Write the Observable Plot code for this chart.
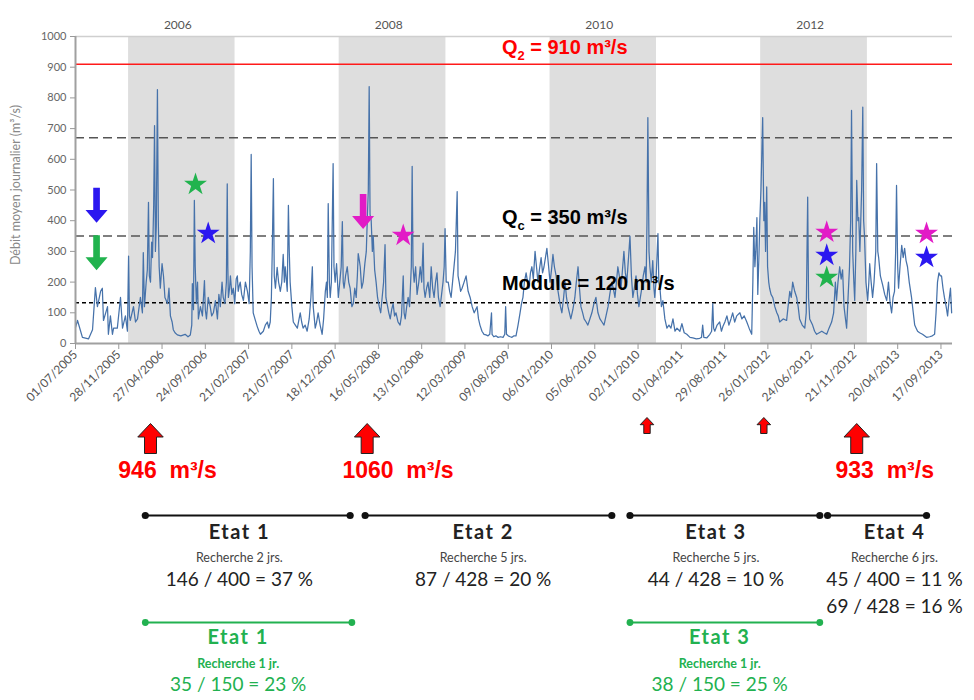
<!DOCTYPE html>
<html><head><meta charset="utf-8">
<script src="https://cdn.jsdelivr.net/npm/d3@7"></script>
<script src="https://cdn.jsdelivr.net/npm/@observablehq/plot@0.6"></script>
<style>body{margin:0;background:#fff}#chart svg{display:block}</style>
</head><body><div id="chart"></div>
<script>
// ---------- DATA ----------
const startDate = "2005-07-01";
// [days since 01/07/2005, daily mean flow m3/s]
const flowReadings = [
[0,52],[7,75],[24,20],[45,15],[59,45],[69,182],[76,120],[87,170],[93,180],[97,75],[111,120],[114,30],[121,90],[128,30],[132,50],[145,50],[156,150],[163,50],[173,90],[180,40],
[184,285],[187,90],[190,75],[201,120],[208,70],[215,80],[225,150],[232,100],[235,296],[239,120],[245,200],[249,240],[253,460],[256,220],[260,200],[264,330],[267,280],[271,450],[274,710],[277,300],[280,380],[284,827],[287,400],[290,250],[294,180],[300,260],[305,220],[310,150],[319,130],[324,180],[329,90],[335,70],[339,45],[345,35],[353,28],[365,25],[380,30],[390,22],[398,28],[403,60],[405,195],[409,110],[412,466],[415,250],[419,130],[423,200],[426,80],[433,120],[440,90],[447,205],[450,110],[454,80],[460,150],[467,120],[472,90],[478,100],[485,140],[492,80],[497,160],[502,120],[508,200],[512,150],[518,130],[523,200],[526,520],[528,250],[530,150],[534,180],[537,220],[542,160],[547,180],[552,130],[557,210],[561,220],[564,170],[568,190],[571,200],[576,160],[582,140],[589,200],[596,170],[602,130],[606,300],[609,616],[612,250],[616,100],[622,80],[630,55],[636,40],[641,30],[646,35],[651,40],[658,60],[665,70],[670,50],[675,70],[679,150],[682,300],[686,537],[689,220],[693,180],[699,248],[704,200],[710,170],[715,200],[720,290],[724,200],[727,250],[734,170],[738,450],[741,300],[744,200],[750,120],[755,70],[762,60],[769,50],[775,80],[779,100],[784,70],[789,50],[796,60],[803,40],[810,80],[816,150],[821,250],[824,120],[831,50],[836,70],[841,100],[848,60],[855,30],[860,80],[866,170],[870,200],[873,150],[876,456],[880,200],[883,150],[887,200],[893,586],[896,250],[900,200],[905,260],[911,150],[916,200],[921,250],[925,397],[928,200],[931,180],[936,220],[942,250],[947,200],[952,180],[958,120],[963,130],[968,180],[973,150],[977,220],[980,293],[984,270],[987,250],[992,180],[997,200],[1003,260],[1008,300],[1012,420],[1015,500],[1018,837],[1021,420],[1025,400],[1029,300],[1032,350],[1037,240],[1042,200],[1047,150],[1053,120],[1058,100],[1063,150],[1068,200],[1073,322],[1076,150],[1080,130],[1086,100],[1091,80],[1096,110],[1101,130],[1106,90],[1111,100],[1118,70],[1125,60],[1130,90],[1136,220],[1139,100],[1143,80],[1148,120],[1153,150],[1158,120],[1164,250],[1167,577],[1170,250],[1174,200],[1179,250],[1184,160],[1190,200],[1195,250],[1200,200],[1205,327],[1208,180],[1212,150],[1217,180],[1222,200],[1228,150],[1233,250],[1238,180],[1243,150],[1248,200],[1253,230],[1258,150],[1264,120],[1269,160],[1274,200],[1278,250],[1281,374],[1285,200],[1292,200],[1297,170],[1302,150],[1307,200],[1312,250],[1317,300],[1323,495],[1326,220],[1330,200],[1335,170],[1340,180],[1347,200],[1354,220],[1361,170],[1368,150],[1375,120],[1382,100],[1387,110],[1392,120],[1397,80],[1402,60],[1409,40],[1416,30],[1423,28],[1430,25],[1436,30],[1442,100],[1444,30],[1450,22],[1457,25],[1465,20],[1473,22],[1482,20],[1488,30],[1491,120],[1494,30],[1500,25],[1507,22],[1513,20],[1520,25],[1527,25],[1534,60],[1541,100],[1546,130],[1551,150],[1556,200],[1562,230],[1567,200],[1572,180],[1577,230],[1582,250],[1587,210],[1593,300],[1598,250],[1603,200],[1608,240],[1614,280],[1619,230],[1624,250],[1629,280],[1634,310],[1640,250],[1645,200],[1650,240],[1655,290],[1660,250],[1666,220],
[1671,180],[1676,150],[1681,120],[1686,100],[1692,150],[1697,200],[1702,150],[1707,120],[1712,100],[1717,80],[1724,110],[1731,150],[1736,200],[1742,250],[1747,180],[1752,120],[1758,100],[1763,80],[1770,70],[1776,60],[1783,80],[1790,100],[1797,130],[1804,150],[1811,100],[1818,80],[1825,70],[1832,60],[1839,90],[1846,120],[1852,160],[1859,200],[1864,180],[1870,150],[1875,200],[1880,250],[1885,220],[1891,180],[1896,240],[1901,300],[1906,230],[1911,200],[1917,280],[1922,350],[1927,220],[1932,150],[1937,180],[1943,220],[1948,160],[1953,120],[1958,150],[1963,180],[1968,220],[1974,250],[1978,200],[1981,400],[1984,736],[1988,300],[1991,250],[1996,200],[2001,270],[2005,180],[2008,150],[2012,200],[2019,358],[2022,200],[2026,180],[2031,120],[2036,140],[2043,80],[2050,50],[2057,60],[2064,50],[2071,80],[2078,40],[2085,50],[2095,40],[2102,65],[2110,35],[2119,30],[2130,20],[2140,18],[2152,15],[2164,17],[2170,20],[2174,60],[2178,20],[2188,18],[2199,30],[2205,40],[2209,130],[2212,50],[2216,40],[2224,60],[2233,70],[2239,40],[2244,55],[2251,70],[2258,90],[2265,60],[2272,80],[2278,100],[2285,70],[2292,90],[2303,100],[2310,80],[2318,90],[2327,70],[2335,50],[2344,30],[2348,200],[2351,378],[2355,250],[2358,300],[2362,410],[2365,160],[2369,280],[2372,400],[2376,500],[2382,736],[2386,400],[2389,460],[2392,300],[2396,510],[2399,250],[2403,200],[2406,180],[2411,160],[2417,150],[2424,120],[2431,100],[2436,90],[2441,70],[2453,80],[2465,75],[2470,120],[2476,170],[2481,150],[2486,200],[2493,170],[2500,150],[2505,120],[2510,80],[2519,60],[2528,50],[2533,100],[2538,477],[2541,150],[2545,80],[2550,70],[2555,60],[2562,40],[2569,30],[2578,35],[2587,40],[2595,35],[2604,30],[2612,50],[2621,70],[2628,100],[2634,200],[2638,140],[2643,200],[2649,250],[2654,210],[2659,240],[2664,120],[2669,80],[2673,50],[2678,150],[2683,250],[2687,400],[2690,759],[2694,300],[2698,200],[2701,140],[2705,300],[2708,531],[2712,400],[2715,410],[2719,300],[2722,400],[2725,500],[2729,770],[2732,400],[2735,350],[2740,200],[2746,140],[2750,200],[2753,260],[2758,200],[2763,150],[2768,200],[2774,300],[2777,586],[2781,300],[2784,280],[2790,220],[2798,190],[2805,160],[2812,140],[2818,200],[2824,130],[2829,100],[2834,150],[2839,170],[2843,300],[2846,515],[2850,250],[2853,180],[2858,250],[2864,320],[2869,280],[2874,310],[2879,270],[2884,250],[2890,200],[2898,150],[2904,100],[2909,60],[2914,50],[2919,40],[2926,35],[2936,30],[2950,20],[2961,22],[2970,25],[2978,30],[2983,100],[2988,200],[2993,230],[2998,220],[3002,220],[3007,180],[3012,150],[3018,120],[3023,90],[3028,140],[3033,180],[3037,100]
];
const xTickLabels = ["01/07/2005","28/11/2005","27/04/2006","24/09/2006","21/02/2007","21/07/2007","18/12/2007","16/05/2008","13/10/2008","12/03/2009","09/08/2009","06/01/2010","05/06/2010","02/11/2010","01/04/2011","29/08/2011","26/01/2012","24/06/2012","21/11/2012","20/04/2013","17/09/2013"];
const yTicks = [0,100,200,300,400,500,600,700,800,900,1000];
const shadedYears = [2006, 2008, 2010, 2012];
const lastDay = 3040;

const q2Level = 910, upperDashed = 670, qcLevel = 350, moduleLevel = 133;
const levelLabels = ["Q_2 = 910 m³/s", "Q_c = 350 m³/s", "Module = 120 m³/s"];
const levelLabelValue = [964, 410, 196];
const levelLabelDate = "2009-07-18";

const starDates = ["2006-08-21","2006-10-04","2008-08-10","2012-08-17","2012-08-17","2012-08-17","2013-07-29","2013-07-29"];
const starFlows = [518, 358, 352, 362, 287, 215, 358, 280];
const starKinds = ["vert","bleu","rose","rose","bleu","vert","rose","bleu"];
const downArrowDates = ["2005-09-12","2005-09-12","2008-03-24"];
const downArrowFlows = [450, 296, 430];
const downArrowKinds = ["bleu","vert","rose"];

const peakArrowDates = ["2006-03-18","2008-04-07","2010-12-03","2012-01-12","2012-11-29"];
const peakArrowMajor = [true, true, false, false, true];
const peakLabels = ["946\u00a0 m³/s","1060\u00a0 m³/s","933\u00a0 m³/s"];
const peakLabelDates = ["2006-05-16","2008-07-23","2013-03-06"];

const etatNames = ["Etat 1","Etat 2","Etat 3","Etat 4"];
const etatStart = ["2006-02-28","2008-03-31","2010-10-05","2012-08-20"];
const etatEnd = ["2008-02-08","2010-08-03","2012-07-24","2013-07-29"];
const etatLabelDate = ["2007-01-20","2009-05-14","2011-07-30","2013-04-09"];
const etatSearch = ["Recherche 2 jrs.","Recherche 5 jrs.","Recherche 5 jrs.","Recherche 6 jrs."];
const etatRatio = ["146 / 400 = 37 %","87 / 428 = 20 %","44 / 428 = 10 %","45 / 400 = 11 %"];
const etatRatio2 = ["","","","69 / 428 = 16 %"];

const greenNames = ["Etat 1","Etat 3"];
const greenStart = ["2006-02-28","2010-10-05"];
const greenEnd = ["2008-02-14","2012-07-24"];
const greenLabelDate = ["2007-01-16","2011-08-12"];
const greenSearch = ["Recherche 1 jr.","Recherche 1 jr."];
const greenRatio = ["35 / 150 = 23 %","38 / 150 = 25 %"];

// ---------- BUILD ----------
const t0 = d3.utcParse("%Y-%m-%d")(startDate);
const iso = d3.utcParse("%Y-%m-%d");
const series = flowReadings.map(([d, q]) => ({date: d3.utcDay.offset(t0, d), q}));
const tickDates = xTickLabels.map(d3.utcParse("%d/%m/%Y"));
const bands = shadedYears.map(y => ({x1: new Date(Date.UTC(y,0,1)), x2: new Date(Date.UTC(y+1,0,5)), mid: new Date(Date.UTC(y,6,1)), label: String(y)}));
const levelText = levelLabels.map((t,i) => ({t, q: levelLabelValue[i], date: iso(levelLabelDate), color: i === 0 ? "#ff0000" : "#000"}));
const stars = starDates.map((d,i) => ({date: iso(d), q: starFlows[i], kind: starKinds[i]}));
const downArrows = downArrowDates.map((d,i) => ({date: iso(d), q: downArrowFlows[i], kind: downArrowKinds[i]}));
const peakArrows = peakArrowDates.map((d,i) => ({date: iso(d), major: peakArrowMajor[i]}));
const peaks = peakLabels.map((t,i) => ({t, date: iso(peakLabelDates[i])}));
const etats = etatNames.map((n,i) => ({n, start: iso(etatStart[i]), end: iso(etatEnd[i]), at: iso(etatLabelDate[i]), s: etatSearch[i], r: etatRatio[i], r2: etatRatio2[i]}));
const greens = greenNames.map((n,i) => ({n, start: iso(greenStart[i]), end: iso(greenEnd[i]), at: iso(greenLabelDate[i]), s: greenSearch[i], r: greenRatio[i]}));

const palette = {type: "ordinal", domain: ["bleu","vert","rose"], range: ["#2b17f0","#21b34e","#e21bc6"]};
const GREEN = "#22b150";

const arrowDown = {draw(ctx, size) {
  const r = Math.sqrt(size / Math.PI), sw = 0.19*r, hw = 0.63*r, hy = 0.26*r;
  ctx.moveTo(-sw,-r); ctx.lineTo(sw,-r); ctx.lineTo(sw,hy); ctx.lineTo(hw,hy);
  ctx.lineTo(0,r); ctx.lineTo(-hw,hy); ctx.lineTo(-sw,hy); ctx.closePath();
}};
const arrowUp = {draw(ctx, size) {
  const r = Math.sqrt(size / Math.PI), sw = 0.4*r, hw = 0.85*r, hy = -0.1*r;
  ctx.moveTo(0,-r); ctx.lineTo(hw,hy); ctx.lineTo(sw,hy); ctx.lineTo(sw,r);
  ctx.lineTo(-sw,r); ctx.lineTo(-sw,hy); ctx.lineTo(-hw,hy); ctx.closePath();
}};

const LATO = "Lato, 'Open Sans', sans-serif";
const ARIAL = "'Liberation Sans', Arial, sans-serif";
const zero = () => 0;

const chart = Plot.plot({
  width: 974, height: 700,
  marginLeft: 75, marginRight: 22, marginTop: 36, marginBottom: 357,
  style: {fontFamily: LATO, background: "#fff", color: "#555", overflow: "visible"},
  x: {type: "utc", domain: [t0, d3.utcDay.offset(t0, lastDay)]},
  y: {domain: [0, 1000]},
  color: palette,
  marks: [
    Plot.rectX(bands, {x1: "x1", x2: "x2", fill: "#dedede"}),
    Plot.text(bands, {x: "mid", text: "label", frameAnchor: "top", dy: -16, dx: -3, fontSize: 12, fill: "#555"}),
    Plot.ruleY([1000], {stroke: "#cfcfcf", strokeWidth: 1.5}),
    Plot.ruleY([upperDashed], {stroke: "#555", strokeWidth: 1.6, strokeDasharray: "9,5"}),
    Plot.ruleY([qcLevel], {stroke: "#555", strokeWidth: 1.6, strokeDasharray: "9,5"}),
    Plot.ruleY([moduleLevel], {stroke: "#000", strokeWidth: 1.5, strokeDasharray: "4,3"}),
    Plot.line(series, {x: "date", y: "q", stroke: "#4672aa", strokeWidth: 1.25}),
    Plot.ruleY([q2Level], {stroke: "#ff1a1a", strokeWidth: 1.5}),
    Plot.ruleY([0], {stroke: "#a0a0a0", strokeWidth: 2}),
    Plot.ruleX([t0], {y1: 0, y2: 1000, stroke: "#a0a0a0", strokeWidth: 2}),
    Plot.axisY({ticks: yTicks, tickFormat: d3.format("d"), tickSize: 5, tickPadding: 4, fontSize: 11, label: null, stroke: "#999", fill: "#666"}),
    Plot.axisX({ticks: tickDates, tickFormat: d3.utcFormat("%d/%m/%Y"), tickRotate: -45, tickSize: 6, tickPadding: 3, fontSize: 12, label: null, stroke: "#999", fill: "#555"}),
    Plot.text(["Débit moyen journalier (m³/s)"], {frameAnchor: "left", textAnchor: "middle", rotate: -90, dx: -60, dy: -5, fontSize: 12.5, fill: "#888"}),
    Plot.text(levelText, {x: "date", y: "q", text: "t", textAnchor: "start", fill: "color", fontFamily: ARIAL, fontWeight: "bold", fontSize: 20}),
    Plot.dot(stars, {x: "date", y: "q", fill: "kind", symbol: "star", r: 7.2}),
    Plot.dot(downArrows, {x: "date", y: "q", fill: "kind", symbol: arrowDown, r: 17.5}),
    // below the axis
    Plot.dot(peakArrows.filter(d => d.major), {x: "date", frameAnchor: "bottom", dy: 95, symbol: arrowUp, r: 15, fill: "#ff0000", stroke: "#222", strokeWidth: 1}),
    Plot.dot(peakArrows.filter(d => !d.major), {x: "date", frameAnchor: "bottom", dy: 82, symbol: arrowUp, r: 8, fill: "#ff0000", stroke: "#222", strokeWidth: 1}),
    Plot.text(peaks, {x: "date", text: "t", frameAnchor: "bottom", dy: 134, fill: "#ff0000", fontFamily: ARIAL, fontWeight: "bold", fontSize: 23}),
    Plot.ruleY(etats, {x1: "start", x2: "end", y: zero, dy: 172, stroke: "#111", strokeWidth: 2}),
    Plot.dot(etats, {x: "start", frameAnchor: "bottom", dy: 172, r: 3.6, fill: "#111"}),
    Plot.dot(etats, {x: "end", frameAnchor: "bottom", dy: 172, r: 3.6, fill: "#111"}),
    Plot.text(etats, {x: "at", text: "n", frameAnchor: "bottom", dy: 195, fontSize: 20, fontWeight: "bold", fill: "#222"}),
    Plot.text(etats, {x: "at", text: "s", frameAnchor: "bottom", dy: 218, fontSize: 12.5, fill: "#444"}),
    Plot.text(etats, {x: "at", text: "r", frameAnchor: "bottom", dy: 242, fontSize: 19, fill: "#222"}),
    Plot.text(etats, {x: "at", text: "r2", frameAnchor: "bottom", dy: 269, fontSize: 19, fill: "#222"}),
    Plot.ruleY(greens, {x1: "start", x2: "end", y: zero, dy: 279, stroke: GREEN, strokeWidth: 2}),
    Plot.dot(greens, {x: "start", frameAnchor: "bottom", dy: 279, r: 3.4, fill: GREEN}),
    Plot.dot(greens, {x: "end", frameAnchor: "bottom", dy: 279, r: 3.4, fill: GREEN}),
    Plot.text(greens, {x: "at", text: "n", frameAnchor: "bottom", dy: 300, fontSize: 20, fontWeight: "bold", fill: GREEN}),
    Plot.text(greens, {x: "at", text: "s", frameAnchor: "bottom", dy: 324, fontSize: 12.5, fontWeight: "bold", fill: GREEN}),
    Plot.text(greens, {x: "at", text: "r", frameAnchor: "bottom", dy: 347, fontSize: 19, fill: GREEN})
  ]
});

// subscripts (Q_2, Q_c)
d3.select(chart).selectAll("text").each(function() {
  if (this.querySelector("tspan")) return;
  const m = /^(.*?)_(.)(.*)$/.exec(this.textContent);
  if (!m) return;
  const el = d3.select(this).text(null);
  el.append("tspan").text(m[1]);
  el.append("tspan").attr("font-size", "13px").attr("dy", "6").text(m[2]);
  el.append("tspan").attr("dy", "-6").text(m[3]);
});
d3.select(chart).selectAll("text").filter(function(){ return /^Etat/.test(this.textContent); }).attr("letter-spacing", "1.5px");

document.getElementById("chart").appendChild(chart);
</script>
</body></html>
